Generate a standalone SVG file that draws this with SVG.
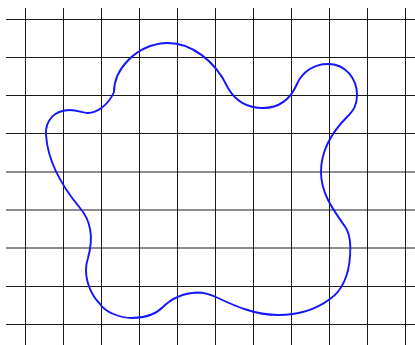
<svg xmlns="http://www.w3.org/2000/svg" width="415" height="345" viewBox="0 0 415 345">
<style>
.g line{stroke:#1a1a1a;stroke-width:1}
.blob{fill:none;stroke:#1414ff;stroke-width:1.9;stroke-linejoin:round}
</style>
<rect width="415" height="345" fill="#fff"/>
<g id="grid" class="g">
<line x1="25.5" y1="8" x2="25.5" y2="345"/>
<line x1="63.5" y1="8" x2="63.5" y2="345"/>
<line x1="101.5" y1="8" x2="101.5" y2="345"/>
<line x1="139.5" y1="8" x2="139.5" y2="345"/>
<line x1="177.5" y1="8" x2="177.5" y2="345"/>
<line x1="215.5" y1="8" x2="215.5" y2="345"/>
<line x1="253.5" y1="8" x2="253.5" y2="345"/>
<line x1="291.5" y1="8" x2="291.5" y2="345"/>
<line x1="329.5" y1="8" x2="329.5" y2="345"/>
<line x1="367.5" y1="8" x2="367.5" y2="345"/>
<line x1="405.5" y1="8" x2="405.5" y2="345"/>
<line x1="6" y1="19.5" x2="415" y2="19.5"/>
<line x1="6" y1="57.5" x2="415" y2="57.5"/>
<line x1="6" y1="95.5" x2="415" y2="95.5"/>
<line x1="6" y1="133.5" x2="415" y2="133.5"/>
<line x1="6" y1="172" x2="415" y2="172"/>
<line x1="6" y1="210" x2="415" y2="210"/>
<line x1="6" y1="248" x2="415" y2="248"/>
<line x1="6" y1="286.5" x2="415" y2="286.5"/>
<line x1="6" y1="324.5" x2="415" y2="324.5"/>
</g>
<g id="shape">
<path class="blob" d="M 114 92 C 114 70, 135 45, 166 43 C 190 42, 215 60, 228 88 C 236 102, 248 108, 263 108 C 278 108, 290 100, 297 84 C 302 72, 314 64, 328 64 C 345 64, 357 78, 357 95 C 357 105, 354 110, 347 117 C 335 129, 321 148, 321 172 C 321 195, 335 212, 346 228 C 350 235, 351 245, 350 256 C 349 275, 342 291, 330 299 C 318 308, 300 315, 278 315 C 255 315, 235 306, 218 298 C 210 294, 205 292.5, 197 292.5 C 185 293, 172 298, 163 307 C 155 315, 145 318, 132 318 C 120 318, 105 312, 100 304 C 92 296, 86 283, 86 270 C 86 264, 87 261, 88 258 C 93 240, 92 222, 80 208 C 65 190, 48 165, 46 135 C 45 120, 55 110, 70 110 C 78 110, 82 113, 88 113 C 96 113, 108 106, 114 92 Z"/>
</g>
</svg>
